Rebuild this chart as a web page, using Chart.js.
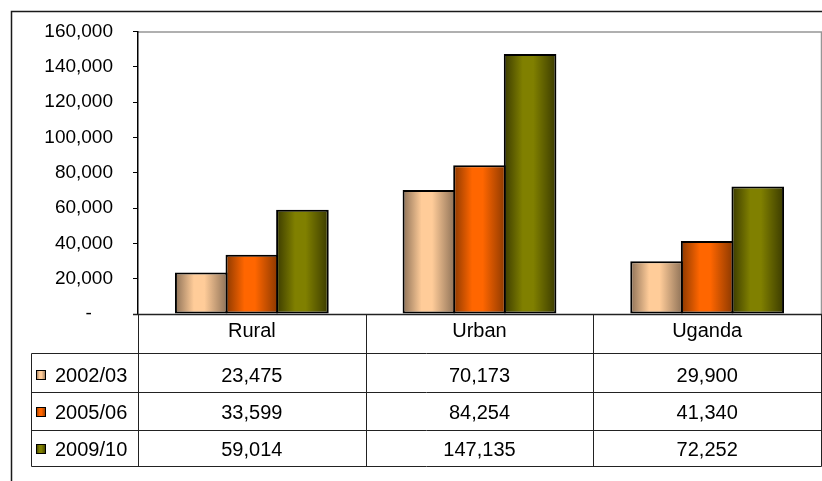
<!DOCTYPE html>
<html><head><meta charset="utf-8">
<script src="https://cdn.jsdelivr.net/npm/chart.js@4/dist/chart.umd.min.js"></script>
<style>html,body{margin:0;padding:0;background:#fff;overflow:hidden}#wrap{width:822px;height:481px;position:relative}canvas{display:block}</style>
</head><body><div id="wrap"><canvas id="c" width="822" height="481"></canvas></div>
<script>
// ---- data ----
const categories = ['Rural', 'Urban', 'Uganda'];
const seriesNames = ['2002/03', '2005/06', '2009/10'];
const values2002 = [23475, 70173, 29900];
const values2005 = [33599, 84254, 41340];
const values2009 = [59014, 147135, 72252];
const yTickValues = [0, 20000, 40000, 60000, 80000, 100000, 120000, 140000, 160000];
const yTickLabels = ['-', '20,000', '40,000', '60,000', '80,000', '100,000', '120,000', '140,000', '160,000'];

// ---- styles ----
const FONT = '"Liberation Sans", Arial, sans-serif';
const baseColors = ['#FFCC99', '#FF6600', '#808000'];
const darkColors = ['#8C7056', '#8A3800', '#3A3A00'];
const seriesValues = [values2002, values2005, values2009];

function fmt(v) { return v.toLocaleString('en-US'); }

function grad(ctx, x0, x1, base, dark) {
  const g = ctx.createLinearGradient(x0, 0, x1, 0);
  g.addColorStop(0, dark);
  g.addColorStop(0.36, base);
  g.addColorStop(0.56, base);
  g.addColorStop(1, dark);
  return g;
}

const tablePlugin = {
  id: 'tablePlugin',
  beforeDraw(chart) {
    const ctx = chart.ctx;
    ctx.save();
    ctx.fillStyle = '#fff';
    ctx.fillRect(0, 0, chart.width, chart.height);
    // outer frame
    ctx.strokeStyle = '#1a1a1a';
    ctx.lineWidth = 1.5;
    ctx.beginPath();
    ctx.moveTo(11.5, chart.height + 5);
    ctx.lineTo(11.5, 11.5);
    ctx.lineTo(chart.width + 5, 11.5);
    ctx.stroke();
    // plot area border top/right (gray)
    const a = chart.chartArea;
    ctx.strokeStyle = '#969696';
    ctx.lineWidth = 1.5;
    ctx.beginPath();
    ctx.moveTo(a.left, a.top + 0.5);
    ctx.lineTo(a.right + 0.5, a.top + 0.5);
    ctx.lineTo(a.right + 0.5, a.bottom);
    ctx.stroke();
    ctx.restore();
  },
  beforeDatasetsDraw(chart) {
    const ctx = chart.ctx;
    chart.data.datasets.forEach((ds, di) => {
      const meta = chart.getDatasetMeta(di);
      meta.data.forEach((el) => {
        const p = el.getProps(['x', 'width'], true);
        el.options.backgroundColor = grad(ctx, p.x - p.width / 2, p.x + p.width / 2, baseColors[di], darkColors[di]);
      });
    });
  },
  afterDatasetsDraw(chart) {
    const ctx = chart.ctx;
    const a = chart.chartArea;
    const xs = chart.scales.x;
    const n = categories.length;
    const cw = (a.right - a.left) / n;
    const legendLeft = 31.5;
    const headerTop = a.bottom;
    const rowTops = [353.5, 392.5, 430.5, 466.5];
    const headerBase = 337;
    const rowBase = [382, 419, 456];

    ctx.save();
    ctx.strokeStyle = '#222';
    // axis line (bottom of plot)
    ctx.beginPath();
    ctx.moveTo(a.left - 5, Math.round(a.bottom) + 0.5);
    ctx.lineTo(a.right + 1, Math.round(a.bottom) + 0.5);
    ctx.lineWidth = 1.5;
    ctx.stroke();
    ctx.lineWidth = 1;
    // horizontal table lines
    ctx.beginPath();
    rowTops.forEach((y) => { ctx.moveTo(legendLeft, y); ctx.lineTo(a.right + 0.5, y); });
    // vertical lines
    for (let i = 0; i <= n; i++) {
      const x = Math.round(a.left + i * cw) + 0.5;
      ctx.moveTo(x, headerTop);
      ctx.lineTo(x, rowTops[rowTops.length - 1]);
    }
    ctx.moveTo(legendLeft, rowTops[0]);
    ctx.lineTo(legendLeft, rowTops[rowTops.length - 1]);
    ctx.stroke();

    // text
    ctx.fillStyle = '#000';
    ctx.font = '20px ' + FONT;
    ctx.textAlign = 'center';
    ctx.textBaseline = 'alphabetic';
    categories.forEach((c, i) => {
      const cx = xs.getPixelForValue(i);
      ctx.fillText(c, cx, headerBase);
      seriesValues.forEach((vals, si) => {
        ctx.fillText(fmt(vals[i]), cx, rowBase[si]);
      });
    });
    // legend column
    ctx.textAlign = 'left';
    seriesNames.forEach((s, si) => {
      const b = rowBase[si];
      const sx = 36, sy = b - 12, sz = 10;
      ctx.fillStyle = grad(ctx, sx, sx + sz, baseColors[si], darkColors[si]);
      ctx.fillRect(sx, sy, sz, sz);
      ctx.strokeStyle = '#000';
      ctx.lineWidth = 1;
      ctx.strokeRect(sx + 0.5, sy + 0.5, sz - 1, sz - 1);
      ctx.fillStyle = '#000';
      ctx.fillText(s, 55, b);
    });
    ctx.restore();
  }
};

const datasets = seriesNames.map((name, i) => ({
  label: name,
  data: seriesValues[i],
  backgroundColor: () => baseColors[i],
  borderColor: '#000',
  borderWidth: 2,
  borderSkipped: false,
  categoryPercentage: 2 / 3,
  barPercentage: 1.04
}));

new Chart(document.getElementById('c'), {
  type: 'bar',
  data: { labels: categories, datasets },
  options: {
    responsive: false,
    animation: false,
    devicePixelRatio: 1,
    layout: { padding: { top: 30, right: 1, bottom: 167, left: 0 } },
    plugins: { legend: { display: false }, tooltip: { enabled: false } },
    scales: {
      x: { display: false },
      y: {
        min: 0, max: 160000,
        afterFit(s) { s.width = 138; },
        afterBuildTicks(s) { s.ticks = yTickValues.map(v => ({ value: v })); },
        border: { display: true, color: '#000', width: 1.5 },
        grid: { display: true, drawOnChartArea: false, drawTicks: true, tickLength: 5, color: '#000', lineWidth: 1 },
        ticks: {
          padding: 20,
          color: '#000',
          font: { family: FONT, size: 19 },
          callback: (v) => {
            const i = yTickValues.indexOf(v);
            const t = i >= 0 ? yTickLabels[i] : fmt(v);
            return v === 0 ? t + '    ' : t;
          }
        }
      }
    }
  },
  plugins: [tablePlugin]
});
</script>
</body></html>
